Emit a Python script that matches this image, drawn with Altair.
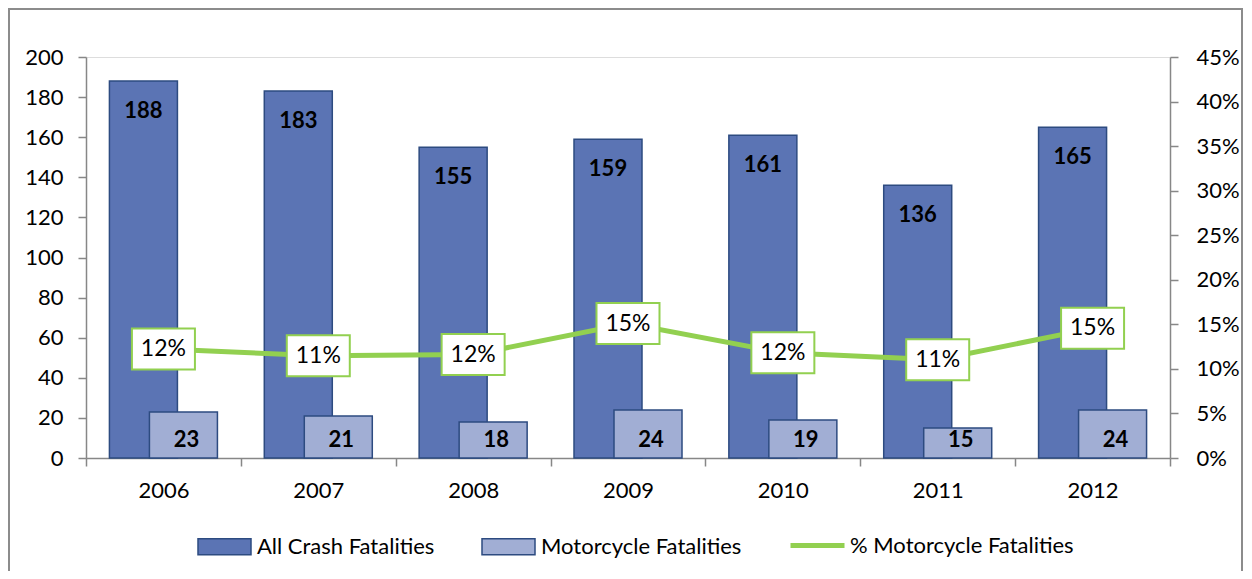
import altair as alt
import pandas as pd

# ---------------- data ----------------
years = ["2006", "2007", "2008", "2009", "2010", "2011", "2012"]
all_crash = [188, 183, 155, 159, 161, 136, 165]
motorcycle = [23, 21, 18, 24, 19, 15, 24]
pct_moto = [0.1223, 0.1148, 0.1161, 0.1509, 0.1180, 0.1103, 0.1455]
series_names = ["All Crash Fatalities", "Motorcycle Fatalities"]
line_name = "% Motorcycle Fatalities"
left_ticks = [0, 20, 40, 60, 80, 100, 120, 140, 160, 180, 200]
right_ticks = [0, 0.05, 0.10, 0.15, 0.20, 0.25, 0.30, 0.35, 0.40, 0.45]

# ---------------- style ----------------
DARK = "#5B74B4"
LIGHT = "#A1AED4"
EDGE = "#2D4B80"
GREEN = "#92D050"
AXIS = "#878787"
FONT = "Lato"
W, H = 1084, 401

bars_df = pd.DataFrame({
    "year": years + years,
    "series": [series_names[0]] * len(years) + [series_names[1]] * len(years),
    "value": all_crash + motorcycle,
})
line_df = pd.DataFrame({"year": years, "pct": pct_moto, "lineSeries": [line_name] * len(years)})
frame_df = pd.DataFrame({"k": [0]})

x_scale = alt.Scale(domain=years, paddingInner=0, paddingOuter=0)
x_axis = alt.Axis(title=None, tickBand="extent", domainColor=AXIS, tickColor=AXIS,
                  tickSize=8, domainWidth=1.5, tickWidth=1.5, labelFontSize=22,
                  labelColor="black", labelPadding=14, labelAngle=0, grid=False,
                  labelFont=FONT)
X = alt.X("year:N", scale=x_scale, axis=x_axis)

yl_scale = alt.Scale(domain=[0, 200], nice=False)
yl_axis = alt.Axis(title=None, orient="left", values=left_ticks, domainColor=AXIS,
                   tickColor=AXIS, tickSize=8, domainWidth=1.5, tickWidth=1.5,
                   labelFontSize=22, labelColor="black", labelPadding=15, grid=False,
                   labelFont=FONT)
YL = alt.Y("value:Q", scale=yl_scale, axis=yl_axis)

yr_scale = alt.Scale(domain=[0, 0.45], nice=False)
yr_axis = alt.Axis(title=None, orient="right", values=right_ticks, format=".0%",
                   domainColor=AXIS, tickColor=AXIS, tickSize=8, domainWidth=1.5,
                   tickWidth=1.5, labelFontSize=22, labelColor="black",
                   labelPadding=18, grid=False, labelFont=FONT)
YR = alt.Y("pct:Q", scale=yr_scale, axis=yr_axis)

SWATCH = "M-1,-0.3L1,-0.3L1,0.3L-1,0.3Z"
BOX = "M-1,-0.651L1,-0.651L1,0.651L-1,0.651Z"

fill_enc = alt.Fill(
    "series:N",
    scale=alt.Scale(domain=series_names, range=[DARK, LIGHT]),
    legend=alt.Legend(title=None, orient="none", legendX=111, legendY=462,
                      direction="horizontal", symbolType=SWATCH, symbolSize=53 * 53,
                      symbolStrokeColor=EDGE, symbolStrokeWidth=1.5,
                      symbolOpacity=1, labelFontSize=22, labelColor="black",
                      labelFont=FONT, labelOffset=5, columnPadding=44, padding=0,
                      labelLimit=500),
)

frame = alt.Chart(frame_df).mark_rect(fill="transparent", stroke="#8C8C8C",
                                      strokeWidth=2).encode(
    x=alt.value(-77), x2=alt.value(1156), y=alt.value(-48), y2=alt.value(560))

base_bars = alt.Chart(bars_df)
dark = base_bars.transform_filter(alt.datum.series == series_names[0]).mark_bar(
    width=68, xOffset=-20, stroke=EDGE, strokeWidth=1.5).encode(x=X, y=YL, fill=fill_enc)
light = base_bars.transform_filter(alt.datum.series == series_names[1]).mark_bar(
    width=68, xOffset=20, stroke=EDGE, strokeWidth=1.5).encode(x=X, y=YL, fill=fill_enc)
dark_text = base_bars.transform_filter(alt.datum.series == series_names[0]).mark_text(
    xOffset=-20, dy=30, fontSize=22, fontWeight="bold", baseline="middle",
    color="black", font=FONT).encode(x=X, y=YL, text="value:Q")
light_text = base_bars.transform_filter(alt.datum.series == series_names[1]).mark_text(
    xOffset=23, fontSize=22, fontWeight="bold", baseline="middle",
    color="black", font=FONT).encode(x=X, y=alt.value(H - 18), text="value:Q")

bars_group = alt.layer(frame, dark, light, dark_text, light_text)

line = alt.Chart(line_df).mark_line(strokeWidth=5).encode(
    x=X, y=YR,
    stroke=alt.Stroke("lineSeries:N",
                      scale=alt.Scale(domain=[line_name], range=[GREEN]),
                      legend=alt.Legend(title=None, orient="none", legendX=702,
                                        legendY=459, symbolType="stroke",
                                        symbolSize=54 * 54, symbolStrokeWidth=5,
                                        labelFontSize=22, labelColor="black",
                                        labelFont=FONT, labelOffset=3, padding=0,
                                        labelLimit=500)))
boxes = alt.Chart(line_df).mark_point(
    shape=BOX, size=63 * 63, filled=True, fill="white", stroke=GREEN,
    strokeWidth=2, opacity=1, fillOpacity=1, strokeOpacity=1).encode(x=X, y=YR)
pct_text = alt.Chart(line_df).mark_text(
    fontSize=23, baseline="middle", color="black", font=FONT).encode(
    x=X, y=YR, text=alt.Text("pct:Q", format=".0%"))

line_group = alt.layer(line, boxes, pct_text)

chart = alt.layer(bars_group, line_group).resolve_scale(y="independent").properties(
    width=W, height=H,
    padding={"left": 78, "top": 49, "right": 74, "bottom": 113},
    autosize=alt.AutoSizeParams(type="none"),
    background="white",
).configure_view(fill="#E6E6E6", strokeWidth=0).configure(font=FONT)

chart.save("out.html", embed_options={"renderer": "svg", "actions": False})
